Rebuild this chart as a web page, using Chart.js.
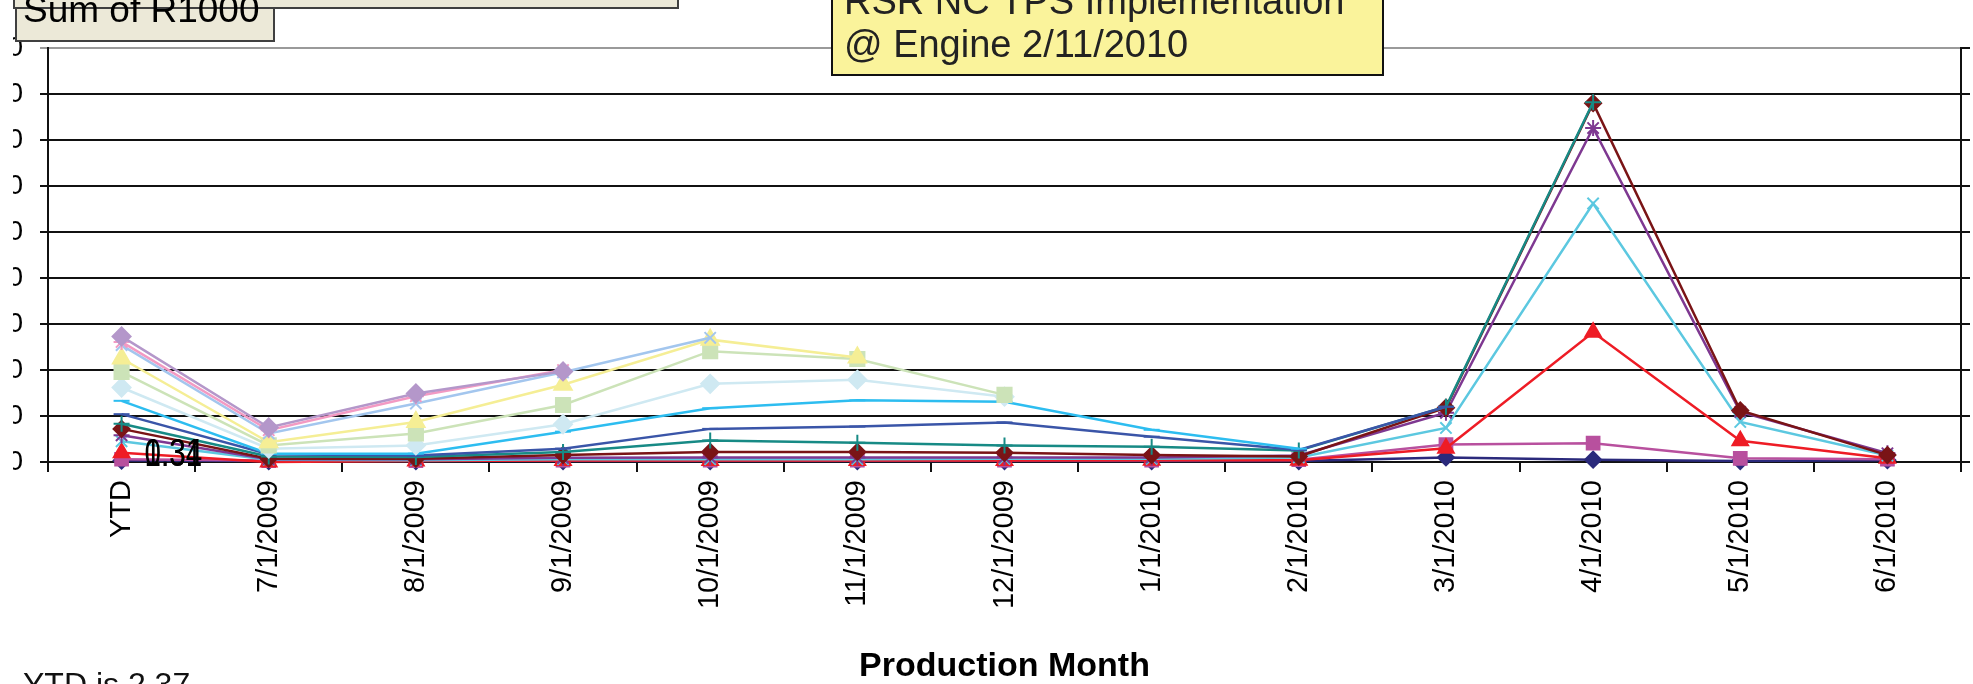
<!DOCTYPE html>
<html>
<head>
<meta charset="utf-8">
<script src="https://cdn.jsdelivr.net/npm/chart.js@4.4.1/dist/chart.umd.min.js"></script>
<style>
    html, body { margin: 0; padding: 0; background: #ffffff; overflow: hidden; }
    #wrap { position: relative; width: 1973px; height: 684px; }
</style>
</head>
<body>
<div id="wrap"><canvas id="r1000Chart"></canvas></div>
<script>
// production months on the x axis
const months = ["YTD", "7/1/2009", "8/1/2009", "9/1/2009", "10/1/2009", "11/1/2009", "12/1/2009",
    "1/1/2010", "2/1/2010", "3/1/2010", "4/1/2010", "5/1/2010", "6/1/2010"];

// Sum of R1000, one line per series (null = series has ended)
const navyDiamond    = [0.03, 0.02, 0.02, 0.02, 0.02, 0.02, 0.02, 0.02, 0.02, 0.10, 0.05, 0.02, 0.04];
const magentaSquare  = [0.06, 0.03, 0.03, 0.04, 0.04, 0.04, 0.04, 0.04, 0.05, 0.38, 0.41, 0.08, 0.06];
const redTriangle    = [0.20, 0.00, 0.02, 0.03, 0.03, 0.03, 0.03, 0.04, 0.04, 0.30, 2.82, 0.46, 0.08];
const cyanCross      = [0.45, 0.05, 0.04, 0.06, 0.06, 0.06, 0.07, 0.07, 0.10, 0.74, 5.62, 0.87, 0.14];
const purpleStar     = [0.58, 0.06, 0.06, 0.09, 0.10, 0.10, 0.10, 0.10, 0.14, 1.07, 7.26, 1.09, 0.19];
const maroonCircle   = [0.72, 0.07, 0.07, 0.15, 0.22, 0.22, 0.20, 0.15, 0.12, 1.18, 7.80, 1.12, 0.15];
const tealPlus       = [0.83, 0.12, 0.11, 0.22, 0.47, 0.42, 0.36, 0.33, 0.25, 1.20, 7.82, null, null];
const blueDash       = [1.04, 0.17, 0.14, 0.29, 0.72, 0.77, 0.86, 0.55, 0.26, 1.20, null, null, null];
const skyDash        = [1.33, 0.18, 0.18, 0.66, 1.17, 1.34, 1.31, 0.70, 0.29, null, null, null, null];
const iceDiamond     = [1.62, 0.29, 0.36, 0.82, 1.70, 1.79, 1.42, null, null, null, null, null, null];
const sageSquare     = [1.96, 0.36, 0.62, 1.24, 2.41, 2.24, 1.46, null, null, null, null, null, null];
const lemonTriangle  = [2.25, 0.43, 0.87, 1.68, 2.66, 2.27, null, null, null, null, null, null, null];
const powderCross    = [2.54, 0.62, 1.27, 1.95, 2.70, null, null, null, null, null, null, null, null];
const pinkStar       = [2.61, 0.69, 1.43, 2.00, null, null, null, null, null, null, null, null, null];
const lavenderDiamond = [2.73, 0.75, 1.49, 1.97, null, null, null, null, null, null, null, null, null];

// y axis ticks
const yTicks = [0, 1, 2, 3, 4, 5, 6, 7, 8, 9];

// overlapping data labels next to YTD
const ytdLabels = ["0.34", "1.31"];

const seriesList = [
    { data: navyDiamond,    color: "#2b2a7c", style: "rectRot",  radius: 8 },
    { data: magentaSquare,  color: "#b8509e", style: "rect",     radius: 9 },
    { data: redTriangle,    color: "#ee1c25", style: "triangle", radius: 9 },
    { data: cyanCross,      color: "#5cc8e0", style: "crossRot", radius: 8 },
    { data: purpleStar,     color: "#7e3891", style: "star",     radius: 8 },
    { data: maroonCircle,   color: "#7a1416", style: "rectRot",  radius: 8 },
    { data: tealPlus,       color: "#178a85", style: "cross",    radius: 8 },
    { data: blueDash,       color: "#3a55a8", style: "line",     radius: 8 },
    { data: skyDash,        color: "#2dbdf0", style: "line",     radius: 8 },
    { data: iceDiamond,     color: "#cfe9f2", style: "rectRot",  radius: 9 },
    { data: sageSquare,     color: "#cce3b8", style: "rect",     radius: 10 },
    { data: lemonTriangle,  color: "#f5ee95", style: "triangle", radius: 10 },
    { data: powderCross,    color: "#a3c6ee", style: "crossRot", radius: 8 },
    { data: pinkStar,       color: "#f39ac3", style: "star",     radius: 8 },
    { data: lavenderDiamond, color: "#b497ca", style: "rectRot", radius: 9 }
];

const chartNotes = {
    id: "chartNotes",
    afterDraw: function (chart) {
        const ctx = chart.ctx;
        const area = chart.chartArea;
        const xScale = chart.scales.x;
        const yScale = chart.scales.y;
        ctx.save();

        // axis numbers are cut off at the left edge in the original
        ctx.fillStyle = "#ffffff";
        ctx.fillRect(0, area.top - 16, 13, area.bottom - area.top + 32);

        // pivot field frame + button
        ctx.fillStyle = "#ece9d8";
        ctx.strokeStyle = "#404040";
        ctx.lineWidth = 2;
        ctx.fillRect(14, -4, 664, 12);
        ctx.strokeRect(14, -4, 664, 12);
        ctx.fillRect(16, 8, 258, 33);
        ctx.strokeRect(16, 8, 258, 33);
        ctx.fillStyle = "#000000";
        ctx.font = "37px 'Liberation Sans', Arial, sans-serif";
        ctx.textAlign = "left";
        ctx.textBaseline = "alphabetic";
        ctx.fillText("Sum of R1000", 23, 22);

        // yellow note
        ctx.fillStyle = "#faf39b";
        ctx.strokeStyle = "#111111";
        ctx.fillRect(832, -4, 551, 79);
        ctx.strokeRect(832, -4, 551, 79);
        ctx.fillStyle = "#222222";
        ctx.font = "38px 'Liberation Sans', Arial, sans-serif";
        ctx.fillText("RSR NC TPS Implementation", 844, 14);
        ctx.fillText("@ Engine 2/11/2010", 844, 57);

        // footnote
        ctx.fillStyle = "#111111";
        ctx.font = "32px 'Liberation Sans', Arial, sans-serif";
        ctx.fillText("YTD is 2.37", 23, 695);

        // data labels at YTD (narrow, overlapping)
        ctx.fillStyle = "#000000";
        ctx.font = "38px 'Liberation Sans', sans-serif";
        ctx.textBaseline = "bottom";
        const lx = xScale.getPixelForValue(0) + 23;
        const ly = yScale.getPixelForValue(0) + 13;
        ctx.translate(lx, ly);
        ctx.scale(0.78, 1);
        ytdLabels.forEach(function (t) {
            ctx.fillText(t, 0, 0);
        });
        ctx.restore();
    }
};

function BuildDatasets() {
    return seriesList.map(function (s, i) {
        return {
            data: s.data,
            borderColor: s.color,
            backgroundColor: s.color,
            borderWidth: 2.5,
            pointStyle: s.style,
            pointRadius: s.radius,
            pointBorderWidth: 2,
            pointBorderColor: s.color,
            pointBackgroundColor: s.color,
            tension: 0,
            spanGaps: false,
            clip: false,
            order: seriesList.length - i
        };
    });
}

const lineScales = {
    x: {
        type: "category",
        offset: true,
        grid: {
            display: true,
            drawOnChartArea: false,
            drawTicks: true,
            tickLength: 10,
            offset: true,
            color: "#111111",
            lineWidth: 2
        },
        border: { display: true, color: "#111111", width: 2 },
        ticks: {
            autoSkip: false,
            maxRotation: 90,
            minRotation: 90,
            padding: 8,
            color: "#000000",
            font: { family: "'Liberation Sans', Arial, sans-serif", size: 29 }
        },
        title: {
            display: true,
            text: "Production Month",
            color: "#000000",
            padding: { top: 4, bottom: 0 },
            font: { family: "'Liberation Sans', Arial, sans-serif", size: 34, weight: "bold", lineHeight: 1 }
        },
        afterFit: function (scale) {
            scale.height = 222;
        }
    },
    y: {
        position: "left",
        min: yTicks[0],
        max: yTicks[yTicks.length - 1],
        afterBuildTicks: function (scale) {
            scale.ticks = yTicks.map(function (v) { return { value: v }; });
        },
        grid: {
            color: function (context) {
                return context.tick && context.tick.value === yTicks[yTicks.length - 1] ? "#9a9a9a" : "#111111";
            },
            lineWidth: 2,
            tickLength: 8
        },
        border: { display: true, color: "#111111", width: 2 },
        ticks: {
            padding: 17,
            color: "#000000",
            font: { family: "'Liberation Sans', Arial, sans-serif", size: 28 },
            callback: function (value) {
                return value.toFixed(1);
            }
        },
        afterFit: function (scale) {
            scale.width = 48;
        }
    },
    yRight: {
        position: "right",
        min: yTicks[0],
        max: yTicks[yTicks.length - 1],
        afterBuildTicks: function (scale) {
            scale.ticks = yTicks.map(function (v) { return { value: v }; });
        },
        grid: {
            drawOnChartArea: false,
            color: "#111111",
            lineWidth: 2,
            tickLength: 9
        },
        border: { display: true, color: "#111111", width: 2 },
        ticks: { display: false },
        afterFit: function (scale) {
            scale.width = 9;
        }
    }
};

function CreateLineChart(chartID) {
    const canvasID = document.getElementById(chartID);
    return new Chart(canvasID, {
        type: "line",
        data: {
            labels: months,
            datasets: BuildDatasets()
        },
        options: {
            responsive: true,
            maintainAspectRatio: false,
            devicePixelRatio: 1,
            animation: false,
            layout: { padding: { top: 48, left: 0, right: 0, bottom: 0 } },
            plugins: {
                legend: { display: false },
                tooltip: { enabled: false }
            },
            scales: lineScales
        },
        plugins: [chartNotes]
    });
}

CreateLineChart("r1000Chart");
</script>
</body>
</html>
